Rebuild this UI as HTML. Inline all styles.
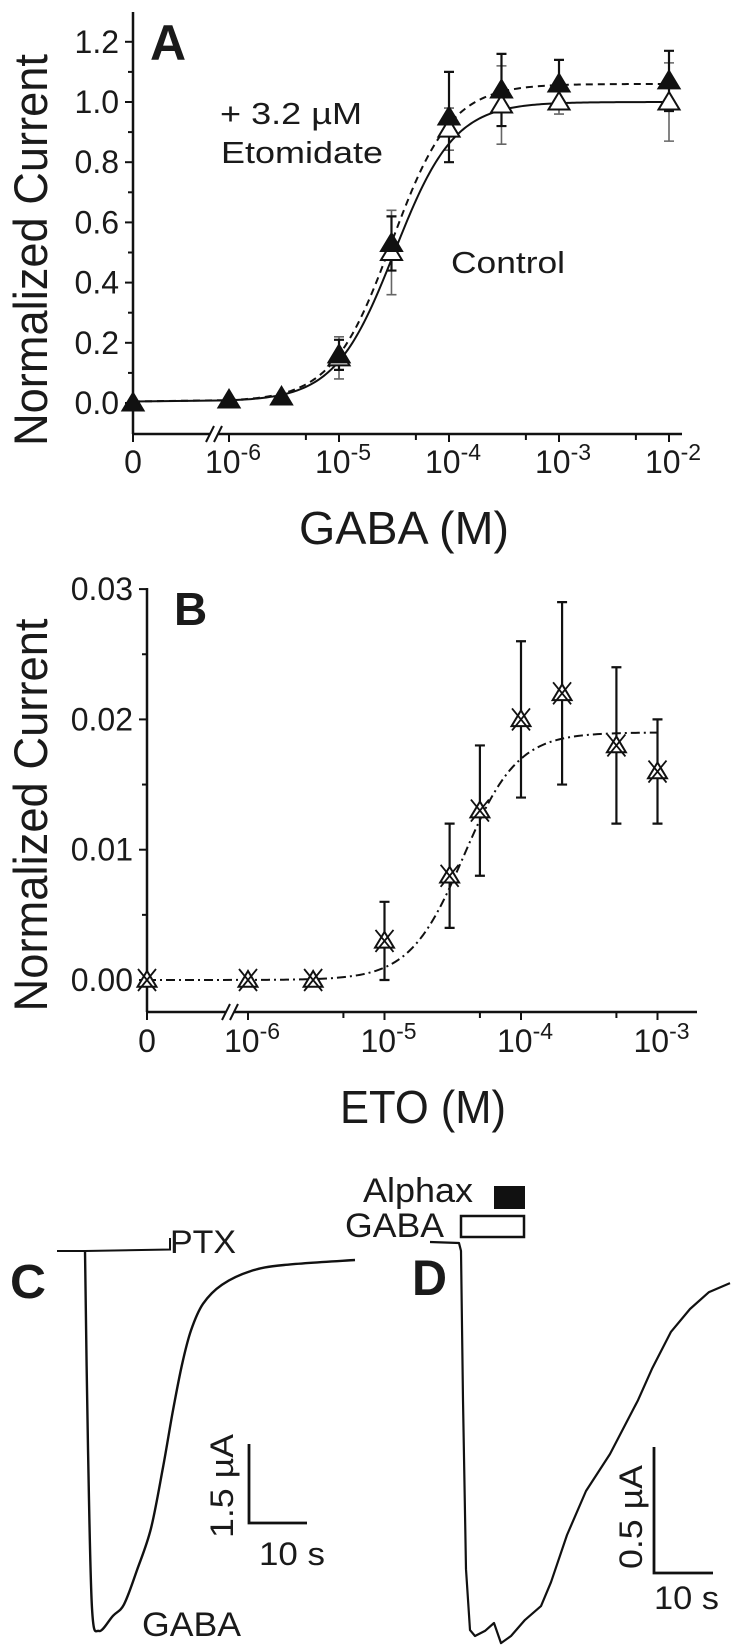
<!DOCTYPE html>
<html><head><meta charset="utf-8"><style>
html,body{margin:0;padding:0;background:#fff;}
svg{display:block;font-family:"Liberation Sans",Arial,sans-serif;}
</style></head><body>
<svg id="fig" width="733" height="1652" viewBox="0 0 733 1652" xmlns="http://www.w3.org/2000/svg">
<g id="panelA"></g>
<g id="panelB"></g>
<g id="panelC"></g>
<g id="panelD"></g>
</svg>
<script>
// Panel A data
const aConc = [0, 1e-6, 3e-6, 1e-5, 3e-5, 1e-4, 3e-4, 1e-3, 1e-2];
const aEto = [0.0, 0.01, 0.02, 0.16, 0.53, 0.95, 1.04, 1.06, 1.07];
const aEtoErr = [0, 0, 0, 0.05, 0.09, 0.15, 0.12, 0.08, 0.10];
const aCtrlConc = [1e-5, 3e-5, 1e-4, 3e-4, 1e-3, 1e-2];
const aCtrl = [0.15, 0.50, 0.91, 0.99, 1.00, 1.00];
const aCtrlErr = [0.07, 0.14, 0.07, 0.13, 0.04, 0.13];
const aYTicks = [0.0, 0.2, 0.4, 0.6, 0.8, 1.0, 1.2];
const aYTickLabels = ["0.0", "0.2", "0.4", "0.6", "0.8", "1.0", "1.2"];
const aXExps = [-6, -5, -4, -3, -2];
const aFitCtrl = [1.00, 3.2e-5, 1.6, 0.005];
const aFitEto = [1.06, 3.0e-5, 1.6, 0.005];
// Panel B data
const bConc = [0, 1e-6, 3e-6, 1e-5, 3e-5, 5e-5, 1e-4, 2e-4, 5e-4, 1e-3];
const bVal = [0, 0, 0, 0.003, 0.008, 0.013, 0.020, 0.022, 0.018, 0.016];
const bErr = [0, 0, 0, 0.003, 0.004, 0.005, 0.006, 0.007, 0.006, 0.004];
const bYTicks = [0.00, 0.01, 0.02, 0.03];
const bYTickLabels = ["0.00", "0.01", "0.02", "0.03"];
const bXExps = [-6, -5, -4, -3];
const bFit = [0.019, 3.8e-5, 2.2, 0];
// Trace data (time units, current as % of peak)
const cT = [0, 3, 7, 14, 28, 39, 52, 66, 78, 88, 97, 106, 118, 137, 166, 199, 270];
const cI = [0, -52, -94, -100, -96, -93, -84, -73, -57, -42, -30, -21, -14, -9, -5.4, -3.8, -2.5];
const dT = [0, 2, 4, 7, 11, 16, 26, 35, 42, 52, 66, 82, 92, 108, 127, 151, 179, 193, 212, 231, 250, 271];
const dI = [0, -2, -40, -83, -98.5, -100, -98.7, -96.7, -101.8, -100, -95.9, -92.4, -86.3, -74.3, -63.1, -53.7, -40, -32, -22.6, -16.8, -12.5, -10.2];

const NS = "http://www.w3.org/2000/svg";
function mk(parent, tag, attrs) {
  const el = document.createElementNS(NS, tag);
  for (const k in attrs) el.setAttribute(k, attrs[k]);
  parent.appendChild(el);
  return el;
}
function txt(parent, x, y, s, size, extra) {
  const t = mk(parent, "text", Object.assign({x: x, y: y, "font-size": size, fill: "#1a1a1a"}, extra || {}));
  t.textContent = s;
  return t;
}
function hill(p, c) { return p[3] + (p[0] - p[3]) / (1 + Math.pow(p[1] / c, p[2])); }

function logAxisPanel(g, cfg) {
  const sx = c => c === 0 ? cfg.x0 : cfg.x1e6 + (Math.log10(c) + 6) * cfg.dec;
  const sy = v => cfg.y0 - v * cfg.ppu;
  let ya = mk(g, "line", {x1: cfg.x0, y1: cfg.yTop, x2: cfg.x0, y2: cfg.axY, stroke: "#111", "stroke-width": 2.5});
  
  
  cfg.yTicks.forEach((v, i) => {
    const tk = mk(g, "line", {x1: cfg.x0 - 8, y1: sy(v), x2: cfg.x0, y2: sy(v), stroke: "#111", "stroke-width": 2});
    
    
    const lb = txt(g, cfg.x0 - 14, sy(v) + 11, cfg.yLabels[i], 32, {"text-anchor": "end"});
    
    
    if (i < cfg.yTicks.length - 1) {
      const mv = (v + cfg.yTicks[i + 1]) / 2;
      const mt = mk(g, "line", {x1: cfg.x0 - 5, y1: sy(mv), x2: cfg.x0, y2: sy(mv), stroke: "#111", "stroke-width": 2});
      
      
    }
  });
  const bx = cfg.breakX;
  let xa1 = mk(g, "line", {x1: cfg.x0, y1: cfg.axY, x2: bx - 4, y2: cfg.axY, stroke: "#111", "stroke-width": 2.5});
  
  
  let xa2 = mk(g, "line", {x1: bx + 4, y1: cfg.axY, x2: cfg.xEnd, y2: cfg.axY, stroke: "#111", "stroke-width": 2.5});
  
  
  [-5, 3].forEach(o => {
    const bl = mk(g, "line", {x1: bx + o - 3, y1: cfg.axY + 8, x2: bx + o + 5, y2: cfg.axY - 8, stroke: "#111", "stroke-width": 2});
    
    
  });
  const t0 = mk(g, "line", {x1: cfg.x0, y1: cfg.axY, x2: cfg.x0, y2: cfg.axY + 8, stroke: "#111", "stroke-width": 2});
  
  
  const l0 = txt(g, cfg.x0, cfg.labY, "0", 32, {"text-anchor": "middle"});
  
  
  cfg.xExps.forEach((e, i) => {
    const x = sx(Math.pow(10, e));
    const tk = mk(g, "line", {x1: x, y1: cfg.axY, x2: x, y2: cfg.axY + 8, stroke: "#111", "stroke-width": 2});
    
    
    const lb = mk(g, "text", {x: x - 24, y: cfg.labY, "font-size": 32, fill: "#1a1a1a"});
    
    
    lb.textContent = "10";
    const sp = mk(lb, "tspan", {dy: -13, "font-size": 23});
    sp.textContent = "-" + Math.abs(e);
    if (i < cfg.xExps.length - 1) {
      const mx = sx(5 * Math.pow(10, e));
      const mt = mk(g, "line", {x1: mx, y1: cfg.axY, x2: mx, y2: cfg.axY + 6, stroke: "#111", "stroke-width": 2});
      
      
    }
  });
  return {sx: sx, sy: sy};
}
function fitPath(p, sx, sy, cMax) {
  let d = "M" + sx(0) + "," + sy(hill(p, 1e-7));
  d += " L" + sx(1e-6) + "," + sy(hill(p, 1e-6));
  for (let l = -6; l <= Math.log10(cMax) + 1e-9; l += 0.02) {
    const c = Math.pow(10, l);
    d += " L" + sx(c).toFixed(2) + "," + sy(hill(p, c)).toFixed(2);
  }
  return d;
}
function errBar(g, x, yv, e, sy, color, w) {
  const eb = mk(g, "path", {d: "M" + x + "," + sy(yv + e) + " V" + sy(yv - e) + " M" + (x - 5) + "," + sy(yv + e) + " h10 M" + (x - 5) + "," + sy(yv - e) + " h10", stroke: color, "stroke-width": w, fill: "none"});
  
  
}
function tri(g, x, y, filled, r) {
  return mk(g, "polygon", {points: (x) + "," + (y - r) + " " + (x - r * 1.05) + "," + (y + r * 0.75) + " " + (x + r * 1.05) + "," + (y + r * 0.75), fill: filled ? "#111" : "#fff", stroke: "#111", "stroke-width": 2});
}
function smoothPath(pts) {
  let d = "M" + pts[0][0].toFixed(1) + "," + pts[0][1].toFixed(1);
  for (let i = 0; i < pts.length - 1; i++) {
    const p0 = pts[Math.max(0, i - 1)], p1 = pts[i], p2 = pts[i + 1], p3 = pts[Math.min(pts.length - 1, i + 2)];
    const c1x = p1[0] + (p2[0] - p0[0]) / 6, c1y = p1[1] + (p2[1] - p0[1]) / 6;
    const c2x = p2[0] - (p3[0] - p1[0]) / 6, c2y = p2[1] - (p3[1] - p1[1]) / 6;
    d += " C" + c1x.toFixed(1) + "," + c1y.toFixed(1) + " " + c2x.toFixed(1) + "," + c2y.toFixed(1) + " " + p2[0].toFixed(1) + "," + p2[1].toFixed(1);
  }
  return d;
}

// ---- Panel A ----
(function () {
  const g = document.getElementById("panelA");
  const {sx, sy} = logAxisPanel(g, {x0: 133, x1e6: 229, dec: 110, y0: 403, ppu: 301, yTop: 12, axY: 434, xEnd: 682, breakX: 214, labY: 473, yTicks: aYTicks, yLabels: aYTickLabels, xExps: aXExps});
  aCtrlConc.forEach((c, i) => errBar(g, sx(c), aCtrl[i], aCtrlErr[i], sy, "#666", 1.6));
  aConc.forEach((c, i) => { if (aEtoErr[i] > 0) errBar(g, sx(c), aEto[i], aEtoErr[i], sy, "#111", 2.2); });
  const fc = mk(g, "path", {d: fitPath(aFitCtrl, sx, sy, 1e-2), fill: "none", stroke: "#111", "stroke-width": 2});
  
  
  const fe = mk(g, "path", {d: fitPath(aFitEto, sx, sy, 1e-2), fill: "none", stroke: "#111", "stroke-width": 2, "stroke-dasharray": "7,5"});
  
  
  aCtrlConc.forEach((c, i) => {
    const t = tri(g, sx(c), sy(aCtrl[i]), false, 10);
    
    
  });
  aConc.forEach((c, i) => {
    const t = tri(g, sx(c), sy(aEto[i]), true, 10);
    
    
  });
  let t;
  t = txt(g, 150, 60, "A", 50, {"font-weight": "bold"});  
  t = txt(g, 220, 124, "+ 3.2 \u00b5M", 31, {textLength: 142, lengthAdjust: "spacingAndGlyphs"});  
  t = txt(g, 221, 163, "Etomidate", 31, {textLength: 162, lengthAdjust: "spacingAndGlyphs"});  
  t = txt(g, 451, 273, "Control", 31, {textLength: 114, lengthAdjust: "spacingAndGlyphs"});  
  t = txt(g, 299, 544, "GABA (M)", 46, {textLength: 210, lengthAdjust: "spacingAndGlyphs"});  
  t = txt(g, 0, 0, "Normalized Current", 47, {transform: "translate(47,250) rotate(-90)", "text-anchor": "middle", textLength: 392, lengthAdjust: "spacingAndGlyphs"});  
})();

// ---- Panel B ----
(function () {
  const g = document.getElementById("panelB");
  const {sx, sy} = logAxisPanel(g, {x0: 147, x1e6: 248, dec: 136.5, y0: 980, ppu: 13030, yTop: 588, axY: 1012, xEnd: 697, breakX: 230, labY: 1052, yTicks: bYTicks, yLabels: bYTickLabels, xExps: bXExps});
  bConc.forEach((c, i) => { if (bErr[i] > 0) errBar(g, sx(c), bVal[i], bErr[i], sy, "#111", 2.2); });
  const fb = mk(g, "path", {d: fitPath(bFit, sx, sy, 1e-3), fill: "none", stroke: "#111", "stroke-width": 2, "stroke-dasharray": "9,4,2,4"});
  
  
  bConc.forEach((c, i) => {
    const x = sx(c), y = sy(bVal[i]);
    const t = tri(g, x, y, false, 9);
    
    
    const xm = mk(g, "path", {d: "M" + (x - 9) + "," + (y - 11) + " L" + (x + 9) + "," + (y + 11) + " M" + (x + 9) + "," + (y - 11) + " L" + (x - 9) + "," + (y + 11), stroke: "#111", "stroke-width": 1.8, fill: "none"});
    
    
  });
  let t;
  t = txt(g, 174, 625, "B", 46, {"font-weight": "bold"});  
  t = txt(g, 340, 1123, "ETO (M)", 46, {textLength: 166, lengthAdjust: "spacingAndGlyphs"});  
  t = txt(g, 0, 0, "Normalized Current", 47, {transform: "translate(47,815) rotate(-90)", "text-anchor": "middle", textLength: 393, lengthAdjust: "spacingAndGlyphs"});  
})();

// ---- Panel C ----
(function () {
  const g = document.getElementById("panelC");
  const tx = v => 85 + v;
  const iy = v => 1250.5 - v * 3.805;
  const pts = cT.map((v, i) => [tx(v), iy(cI[i])]);
  const p = mk(g, "path", {d: smoothPath(pts), fill: "none", stroke: "#111", "stroke-width": 2.4, "stroke-linejoin": "round"});
  
  
  const bl = mk(g, "path", {d: "M57,1251 L85,1251 L170,1249.5 V1238", fill: "none", stroke: "#111", "stroke-width": 2});
  
  
  let t;
  t = txt(g, 170, 1253, "PTX", 32, {textLength: 66, lengthAdjust: "spacingAndGlyphs"});  
  t = txt(g, 10, 1298, "C", 48, {"font-weight": "bold", textLength: 36, lengthAdjust: "spacingAndGlyphs"});  
  t = txt(g, 142, 1636, "GABA", 34, {textLength: 99, lengthAdjust: "spacingAndGlyphs"});  
  const sb = mk(g, "path", {d: "M249,1444 V1523 H307", fill: "none", stroke: "#111", "stroke-width": 2.8});
  
  
  t = txt(g, 0, 0, "1.5 \u00b5A", 32, {transform: "translate(233,1486) rotate(-90)", "text-anchor": "middle", textLength: 104, lengthAdjust: "spacingAndGlyphs"});  
  t = txt(g, 259, 1565, "10 s", 32, {textLength: 66, lengthAdjust: "spacingAndGlyphs"});  
})();

// ---- Panel D ----
(function () {
  const g = document.getElementById("panelD");
  const tx = v => 459 + v;
  const iy = v => 1243 - v * 3.93;
  let d = "M430,1242 L459,1243";
  dT.forEach((v, i) => { d += " L" + tx(v).toFixed(1) + "," + iy(dI[i]).toFixed(1); });
  const p = mk(g, "path", {d: d, fill: "none", stroke: "#111", "stroke-width": 2.2, "stroke-linejoin": "round"});
  
  
  let t;
  t = txt(g, 412, 1295, "D", 50, {"font-weight": "bold", textLength: 35, lengthAdjust: "spacingAndGlyphs"});  
  t = txt(g, 363, 1202, "Alphax", 34, {textLength: 110, lengthAdjust: "spacingAndGlyphs"});  
  const r1 = mk(g, "rect", {x: 494, y: 1186, width: 31, height: 23, fill: "#111"});
  
  
  t = txt(g, 345, 1237, "GABA", 34, {textLength: 99, lengthAdjust: "spacingAndGlyphs"});  
  const r2 = mk(g, "rect", {x: 461, y: 1216, width: 63, height: 21, fill: "#fff", stroke: "#111", "stroke-width": 2.5});
  
  
  const sb = mk(g, "path", {d: "M654,1447 V1573 H713", fill: "none", stroke: "#111", "stroke-width": 2.8});
  
  
  t = txt(g, 0, 0, "0.5 \u00b5A", 32, {transform: "translate(642,1517) rotate(-90)", "text-anchor": "middle", textLength: 104, lengthAdjust: "spacingAndGlyphs"});  
  t = txt(g, 654, 1609, "10 s", 32, {textLength: 65, lengthAdjust: "spacingAndGlyphs"});  
})();
</script>
</body></html>
